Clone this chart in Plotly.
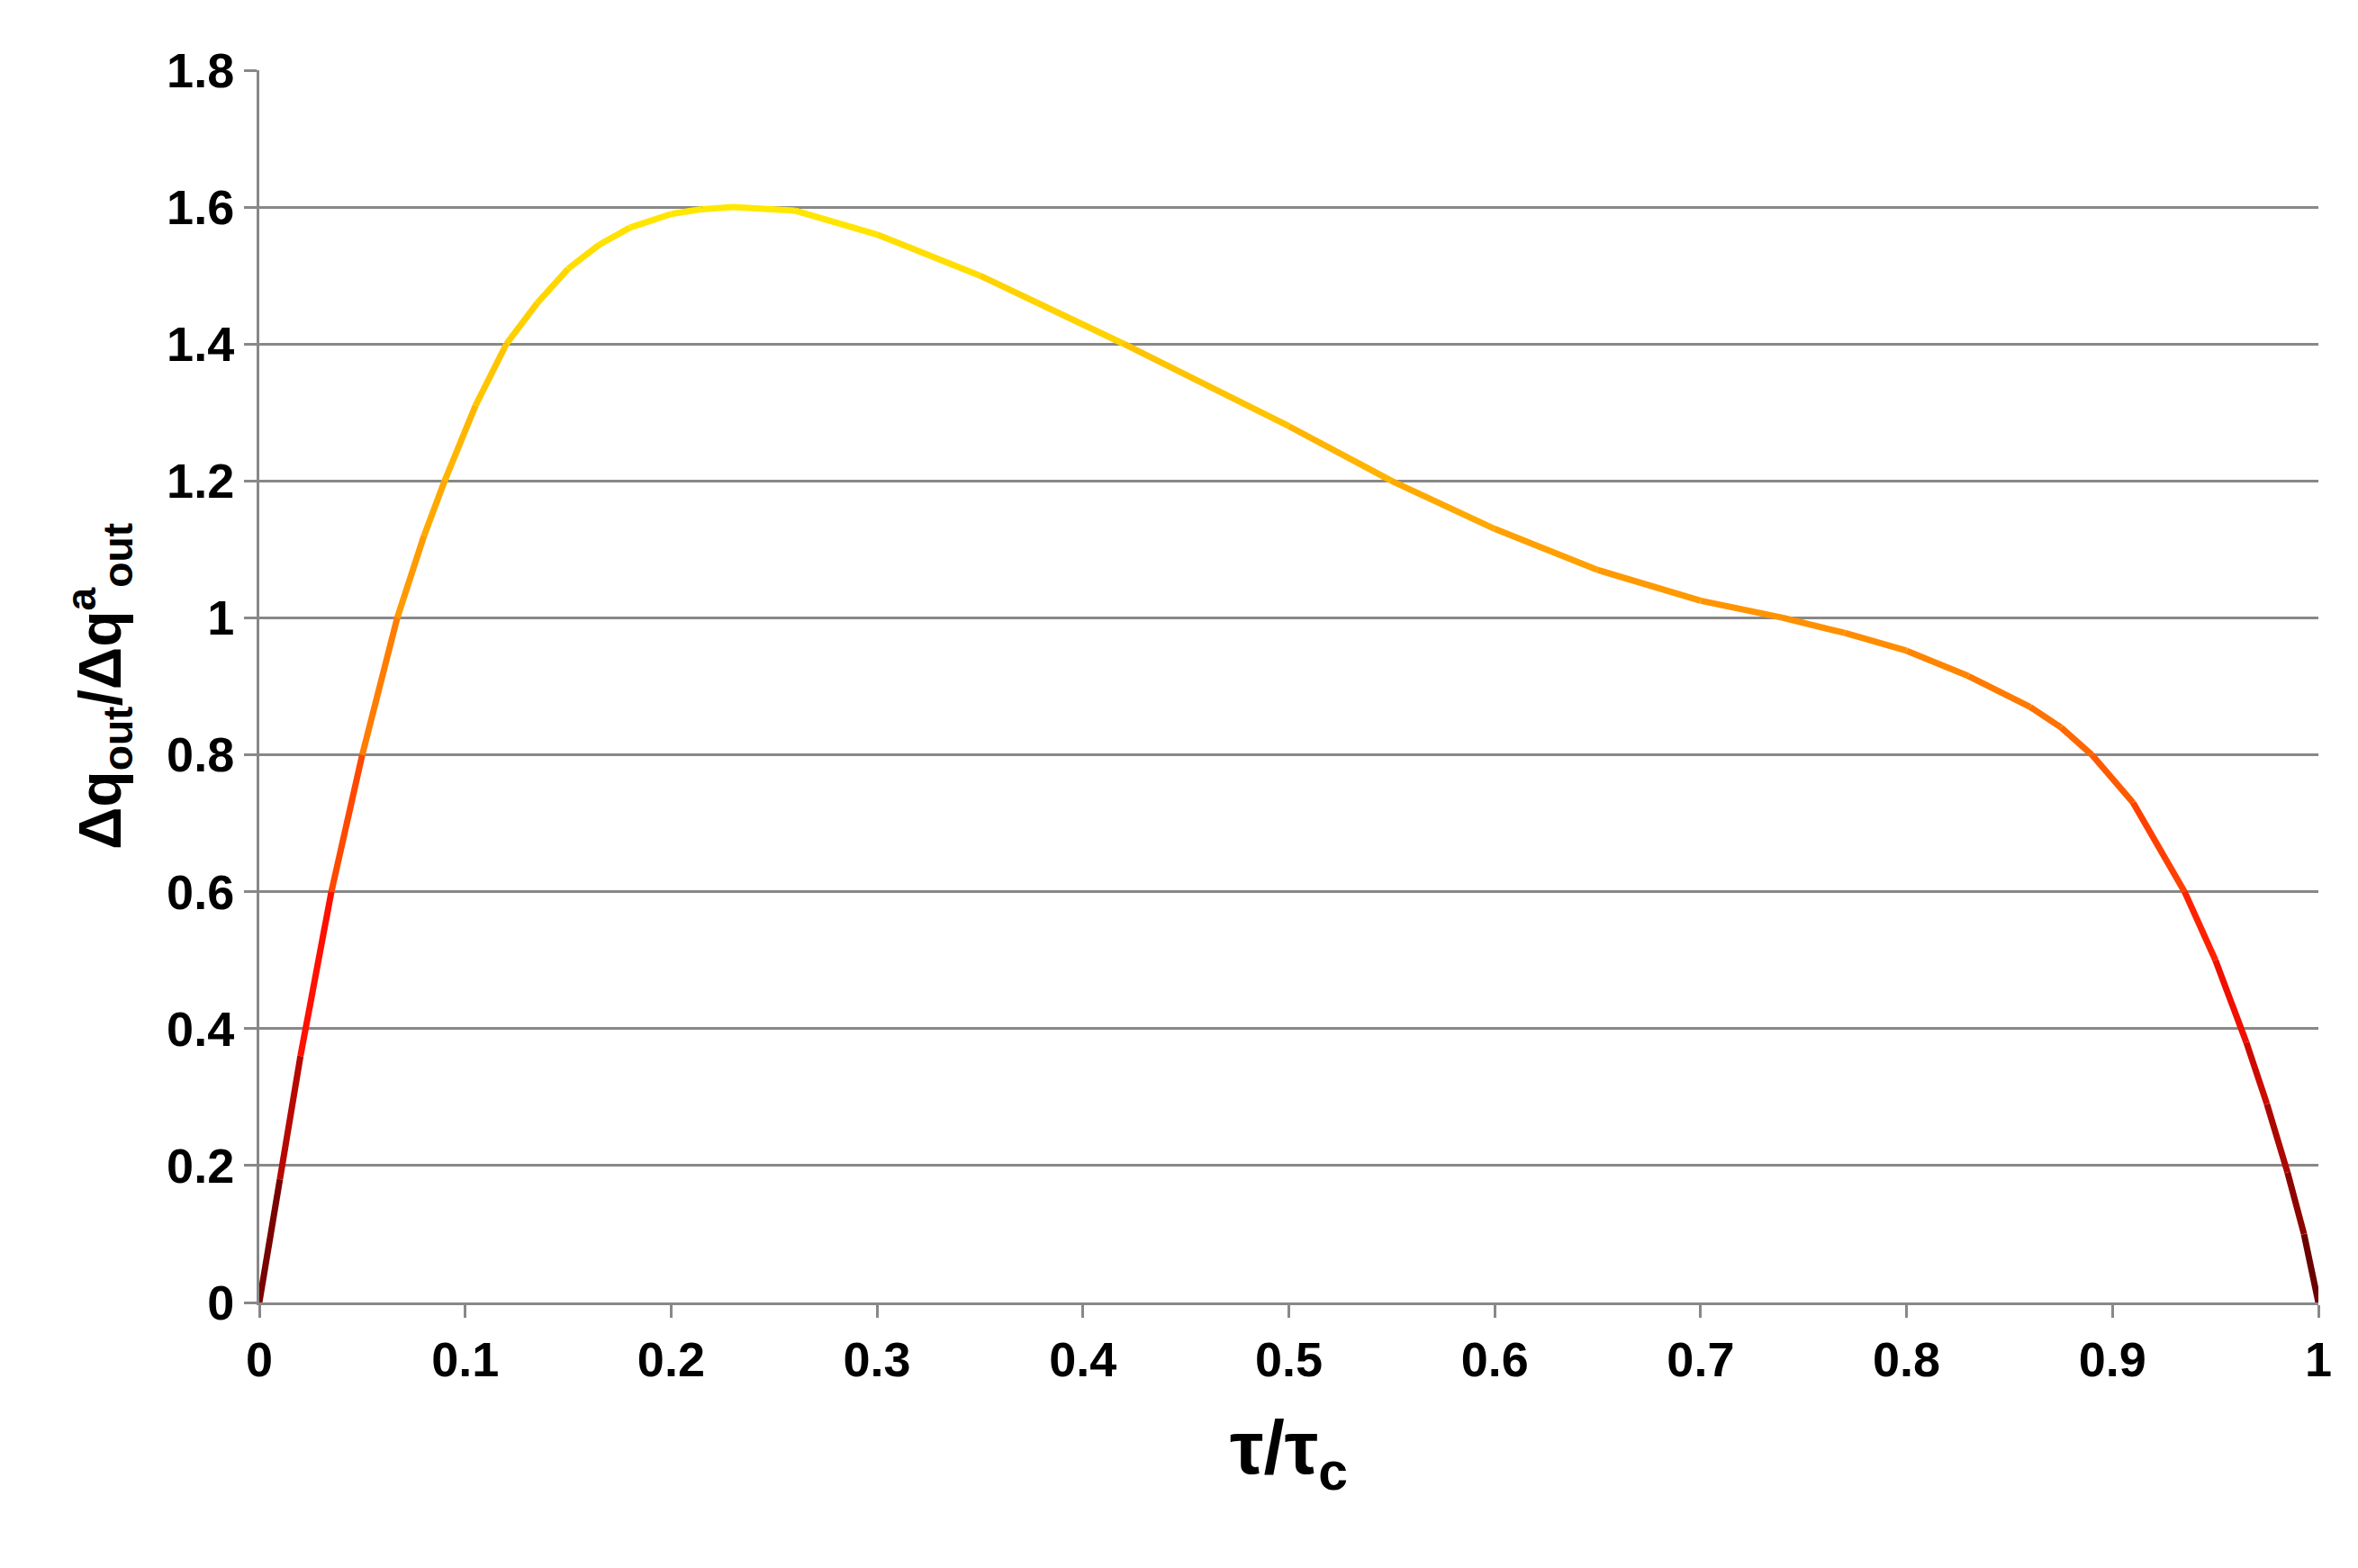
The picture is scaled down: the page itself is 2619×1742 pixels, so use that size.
import plotly.graph_objects as go
from plotly.colors import sample_colorscale

tau = [0, 0.01, 0.02, 0.035, 0.05, 0.067, 0.08, 0.09, 0.105, 0.12, 0.135, 0.15, 0.165, 0.18, 0.2, 0.215, 0.23, 0.26, 0.3, 0.35, 0.42, 0.5, 0.55, 0.6, 0.65, 0.7, 0.74, 0.77, 0.8, 0.83, 0.86, 0.875, 0.89, 0.91, 0.935, 0.95, 0.965, 0.975, 0.985, 0.993, 1.0]
ratio = [0, 0.18, 0.36, 0.6, 0.8, 1.0, 1.12, 1.2, 1.31, 1.4, 1.46, 1.51, 1.545, 1.57, 1.59, 1.597, 1.60, 1.595, 1.56, 1.5, 1.4, 1.28, 1.2, 1.13, 1.07, 1.025, 1.0, 0.978, 0.952, 0.915, 0.87, 0.84, 0.8, 0.73, 0.6, 0.5, 0.38, 0.29, 0.19, 0.1, 0]
xlabels = ['0', '0.1', '0.2', '0.3', '0.4', '0.5', '0.6', '0.7', '0.8', '0.9', '1']

cscale = [[0, '#5a0000'], [0.3, '#ff1000'], [0.6, '#ff8c00'], [1, '#ffe800']]
fig = go.Figure()
for i in range(len(tau) - 1):
    v = (ratio[i] + ratio[i + 1]) / 2 / 1.6
    c = sample_colorscale(cscale, [min(max(v, 0), 1)])[0]
    fig.add_trace(go.Scatter(x=tau[i:i + 2], y=ratio[i:i + 2], mode='lines',
                             line=dict(color=c, width=7), showlegend=False, hoverinfo='skip'))

font = dict(family='Liberation Sans, Arial', color='black')
fig.update_layout(
    width=2619, height=1742, plot_bgcolor='white', paper_bgcolor='white',
    margin=dict(l=280, r=52, t=70, b=303),
    xaxis=dict(range=[0, 1], tickvals=[i / 10 for i in range(11)],
               ticktext=['<b>%s</b>' % t for t in xlabels],
               showgrid=False, zeroline=False, showline=True, linecolor='#888', linewidth=3,
               ticks='outside', tickcolor='#888', ticklen=14, tickwidth=3,
               tickfont=dict(size=54, **font),
               title=dict(text='<b>τ/τ<sub>c</sub></b>', font=dict(size=84, **font), standoff=40)),
    yaxis=dict(range=[0, 1.8], dtick=0.2, tickformat='.1~f',
               tickprefix='<b>', ticksuffix='</b>',
               showgrid=True, gridcolor='#888', gridwidth=3, zeroline=False,
               showline=True, linecolor='#888', linewidth=3,
               ticks='outside', tickcolor='#888', ticklen=14, tickwidth=3,
               tickfont=dict(size=54, **font),
               title=dict(text='<b>Δq<sub>out</sub>/Δq<sup>a</sup><sub>out</sub></b>', font=dict(size=66, **font), standoff=30)),
)
fig.write_html('out.html')
